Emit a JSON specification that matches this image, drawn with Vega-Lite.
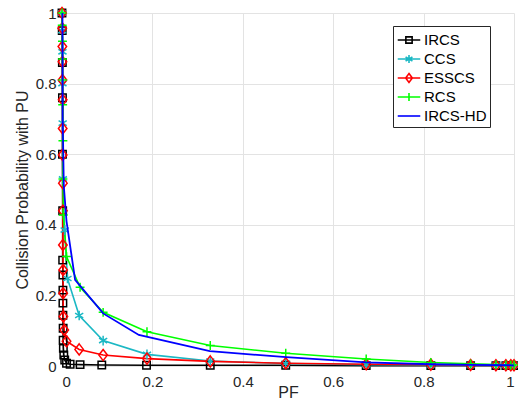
{
  "$schema": "https://vega.github.io/schema/vega-lite/v6.json",
  "width": 452,
  "height": 353,
  "autosize": {"type": "none"},
  "padding": {"left": 62, "top": 13, "right": 4, "bottom": 35},
  "background": "white",
  "config": {
    "view": {"stroke": null},
    "font": "Liberation Sans",
    "axis": {
      "domain": false,
      "ticks": false,
      "grid": true,
      "gridColor": "#e3e3e3",
      "gridWidth": 1,
      "labelFont": "Liberation Sans",
      "labelFontSize": 15,
      "labelColor": "#262626",
      "titleFont": "Liberation Sans",
      "titleFontSize": 16,
      "titleFontWeight": "normal",
      "titleColor": "#262626"
    }
  },
  "datasets": {
    "curves": [
      {"s": "IRCS", "i": 0, "x": 0, "y": 1.0},
      {"s": "IRCS", "i": 1, "x": 0.0005, "y": 0.95},
      {"s": "IRCS", "i": 2, "x": 0.0008, "y": 0.86},
      {"s": "IRCS", "i": 3, "x": 0.001, "y": 0.76},
      {"s": "IRCS", "i": 4, "x": 0.001, "y": 0.6},
      {"s": "IRCS", "i": 5, "x": 0.0015, "y": 0.44},
      {"s": "IRCS", "i": 6, "x": 0.0015, "y": 0.3},
      {"s": "IRCS", "i": 7, "x": 0.002, "y": 0.258},
      {"s": "IRCS", "i": 8, "x": 0.002, "y": 0.215},
      {"s": "IRCS", "i": 9, "x": 0.002, "y": 0.178},
      {"s": "IRCS", "i": 10, "x": 0.002, "y": 0.144},
      {"s": "IRCS", "i": 11, "x": 0.0025, "y": 0.107},
      {"s": "IRCS", "i": 12, "x": 0.0025, "y": 0.073},
      {"s": "IRCS", "i": 13, "x": 0.003, "y": 0.05},
      {"s": "IRCS", "i": 14, "x": 0.004, "y": 0.031},
      {"s": "IRCS", "i": 15, "x": 0.006, "y": 0.017},
      {"s": "IRCS", "i": 16, "x": 0.01, "y": 0.008},
      {"s": "IRCS", "i": 17, "x": 0.018, "y": 0.005},
      {"s": "IRCS", "i": 18, "x": 0.04, "y": 0.004},
      {"s": "IRCS", "i": 19, "x": 0.088, "y": 0.003},
      {"s": "IRCS", "i": 20, "x": 0.187, "y": 0.002},
      {"s": "IRCS", "i": 21, "x": 0.328, "y": 0.002},
      {"s": "IRCS", "i": 22, "x": 0.495, "y": 0.002},
      {"s": "IRCS", "i": 23, "x": 0.673, "y": 0.001},
      {"s": "IRCS", "i": 24, "x": 0.816, "y": 0.001},
      {"s": "IRCS", "i": 25, "x": 0.904, "y": 0.001},
      {"s": "IRCS", "i": 26, "x": 0.96, "y": 0.001},
      {"s": "IRCS", "i": 27, "x": 0.982, "y": 0.001},
      {"s": "IRCS", "i": 28, "x": 0.993, "y": 0.001},
      {"s": "IRCS", "i": 29, "x": 1.0, "y": 0.001},

      {"s": "CCS", "i": 0, "x": 0, "y": 1.0},
      {"s": "CCS", "i": 1, "x": 0.0005, "y": 0.95},
      {"s": "CCS", "i": 2, "x": 0.001, "y": 0.89},
      {"s": "CCS", "i": 3, "x": 0.001, "y": 0.8},
      {"s": "CCS", "i": 4, "x": 0.0015, "y": 0.688},
      {"s": "CCS", "i": 5, "x": 0.002, "y": 0.53},
      {"s": "CCS", "i": 6, "x": 0.006, "y": 0.385},
      {"s": "CCS", "i": 7, "x": 0.012, "y": 0.248},
      {"s": "CCS", "i": 8, "x": 0.038, "y": 0.143},
      {"s": "CCS", "i": 9, "x": 0.091, "y": 0.072},
      {"s": "CCS", "i": 10, "x": 0.188, "y": 0.033},
      {"s": "CCS", "i": 11, "x": 0.328, "y": 0.014},
      {"s": "CCS", "i": 12, "x": 0.495, "y": 0.007},
      {"s": "CCS", "i": 13, "x": 0.673, "y": 0.004},
      {"s": "CCS", "i": 14, "x": 0.816, "y": 0.003},
      {"s": "CCS", "i": 15, "x": 0.904, "y": 0.002},
      {"s": "CCS", "i": 16, "x": 0.96, "y": 0.002},
      {"s": "CCS", "i": 17, "x": 0.982, "y": 0.002},
      {"s": "CCS", "i": 18, "x": 0.993, "y": 0.002},
      {"s": "CCS", "i": 19, "x": 1.0, "y": 0.002},

      {"s": "ESSCS", "i": 0, "x": 0, "y": 1.0},
      {"s": "ESSCS", "i": 1, "x": 0.0005, "y": 0.957},
      {"s": "ESSCS", "i": 2, "x": 0.0008, "y": 0.905},
      {"s": "ESSCS", "i": 3, "x": 0.001, "y": 0.862},
      {"s": "ESSCS", "i": 4, "x": 0.001, "y": 0.81},
      {"s": "ESSCS", "i": 5, "x": 0.0015, "y": 0.754},
      {"s": "ESSCS", "i": 6, "x": 0.0015, "y": 0.673},
      {"s": "ESSCS", "i": 7, "x": 0.0015, "y": 0.598},
      {"s": "ESSCS", "i": 8, "x": 0.002, "y": 0.518},
      {"s": "ESSCS", "i": 9, "x": 0.002, "y": 0.44},
      {"s": "ESSCS", "i": 10, "x": 0.002, "y": 0.343},
      {"s": "ESSCS", "i": 11, "x": 0.0025, "y": 0.272},
      {"s": "ESSCS", "i": 12, "x": 0.0025, "y": 0.206},
      {"s": "ESSCS", "i": 13, "x": 0.003, "y": 0.14},
      {"s": "ESSCS", "i": 14, "x": 0.005, "y": 0.102},
      {"s": "ESSCS", "i": 15, "x": 0.01, "y": 0.07},
      {"s": "ESSCS", "i": 16, "x": 0.038, "y": 0.047},
      {"s": "ESSCS", "i": 17, "x": 0.091, "y": 0.031},
      {"s": "ESSCS", "i": 18, "x": 0.188, "y": 0.021},
      {"s": "ESSCS", "i": 19, "x": 0.328, "y": 0.013},
      {"s": "ESSCS", "i": 20, "x": 0.495, "y": 0.008},
      {"s": "ESSCS", "i": 21, "x": 0.673, "y": 0.005},
      {"s": "ESSCS", "i": 22, "x": 0.816, "y": 0.004},
      {"s": "ESSCS", "i": 23, "x": 0.904, "y": 0.003},
      {"s": "ESSCS", "i": 24, "x": 0.96, "y": 0.002},
      {"s": "ESSCS", "i": 25, "x": 0.982, "y": 0.002},
      {"s": "ESSCS", "i": 26, "x": 0.993, "y": 0.002},
      {"s": "ESSCS", "i": 27, "x": 1.0, "y": 0.002},

      {"s": "RCS", "i": 0, "x": 0, "y": 1.0},
      {"s": "RCS", "i": 1, "x": 0.0005, "y": 0.965},
      {"s": "RCS", "i": 2, "x": 0.001, "y": 0.92},
      {"s": "RCS", "i": 3, "x": 0.001, "y": 0.87},
      {"s": "RCS", "i": 4, "x": 0.0015, "y": 0.81},
      {"s": "RCS", "i": 5, "x": 0.0015, "y": 0.74},
      {"s": "RCS", "i": 6, "x": 0.002, "y": 0.638},
      {"s": "RCS", "i": 7, "x": 0.002, "y": 0.53},
      {"s": "RCS", "i": 8, "x": 0.003, "y": 0.428},
      {"s": "RCS", "i": 9, "x": 0.01, "y": 0.31},
      {"s": "RCS", "i": 10, "x": 0.04, "y": 0.223},
      {"s": "RCS", "i": 11, "x": 0.091, "y": 0.152},
      {"s": "RCS", "i": 12, "x": 0.188, "y": 0.097},
      {"s": "RCS", "i": 13, "x": 0.328, "y": 0.058},
      {"s": "RCS", "i": 14, "x": 0.495, "y": 0.036},
      {"s": "RCS", "i": 15, "x": 0.673, "y": 0.02},
      {"s": "RCS", "i": 16, "x": 0.816, "y": 0.01},
      {"s": "RCS", "i": 17, "x": 0.904, "y": 0.006},
      {"s": "RCS", "i": 18, "x": 0.96, "y": 0.004},
      {"s": "RCS", "i": 19, "x": 0.982, "y": 0.003},
      {"s": "RCS", "i": 20, "x": 0.993, "y": 0.003},
      {"s": "RCS", "i": 21, "x": 1.0, "y": 0.003},

      {"s": "IRCS-HD", "i": 0, "x": 0.001, "y": 1.0},
      {"s": "IRCS-HD", "i": 1, "x": 0.0015, "y": 0.7},
      {"s": "IRCS-HD", "i": 2, "x": 0.004, "y": 0.51},
      {"s": "IRCS-HD", "i": 3, "x": 0.01, "y": 0.41},
      {"s": "IRCS-HD", "i": 4, "x": 0.029, "y": 0.244},
      {"s": "IRCS-HD", "i": 5, "x": 0.091, "y": 0.149},
      {"s": "IRCS-HD", "i": 6, "x": 0.17, "y": 0.088},
      {"s": "IRCS-HD", "i": 7, "x": 0.327, "y": 0.042},
      {"s": "IRCS-HD", "i": 8, "x": 0.496, "y": 0.025},
      {"s": "IRCS-HD", "i": 9, "x": 0.673, "y": 0.01},
      {"s": "IRCS-HD", "i": 10, "x": 0.816, "y": 0.005},
      {"s": "IRCS-HD", "i": 11, "x": 0.904, "y": 0.003},
      {"s": "IRCS-HD", "i": 12, "x": 1.0, "y": 0.002}
    ]
  },
  "data": {"name": "curves"},
  "encoding": {
    "x": {
      "field": "x", "type": "quantitative",
      "scale": {"domain": [0, 1], "nice": false},
      "axis": {"values": [0, 0.2, 0.4, 0.6, 0.8, 1], "format": "~g", "title": "PF", "labelPadding": 8, "titlePadding": -5}
    },
    "y": {
      "field": "y", "type": "quantitative",
      "scale": {"domain": [0, 1], "nice": false},
      "axis": {"values": [0, 0.2, 0.4, 0.6, 0.8, 1], "format": "~g", "title": "Collision Probability with PU", "labelPadding": 6, "titlePadding": 5}
    },
    "color": {
      "field": "s", "type": "nominal",
      "scale": {
        "domain": ["IRCS", "CCS", "ESSCS", "RCS", "IRCS-HD"],
        "range": ["#000000", "#1bb8c4", "#ff0000", "#00ff00", "#0000ff"]
      },
      "legend": {
        "title": null,
        "orient": "none",
        "legendX": 331,
        "legendY": 13,
        "fillColor": "white",
        "strokeColor": "#262626",
        "padding": 3,
        "labelFont": "Liberation Sans",
        "labelFontSize": 15,
        "labelColor": "#000000",
        "symbolSize": 384,
        "symbolStrokeWidth": 1.6,
        "rowPadding": 0,
        "labelOffset": 4,
        "symbolOffset": 2,
        "symbolFillColor": "transparent"
      }
    }
  },
  "layer": [
    {
      "transform": [{"filter": "datum.s !== 'IRCS-HD'"}],
      "mark": {"type": "line", "strokeWidth": 1.6, "clip": false},
      "encoding": {"detail": {"field": "s"}, "order": {"field": "i", "type": "quantitative"}}
    },
    {
      "transform": [{"filter": "datum.s === 'IRCS'"}],
      "mark": {"type": "point", "filled": false, "strokeWidth": 1.5, "opacity": 1, "clip": false, "size": 55, "shape": "M-1,-1L1,-1L1,1L-1,1Z"}
    },
    {
      "transform": [{"filter": "datum.s === 'CCS'"}],
      "mark": {"type": "point", "filled": false, "strokeWidth": 1.5, "opacity": 1, "clip": false, "size": 55, "shape": "M0,-1.3L0,1.3M-1.1,-0.65L1.1,0.65M-1.1,0.65L1.1,-0.65"}
    },
    {
      "transform": [{"filter": "datum.s === 'ESSCS'"}],
      "mark": {"type": "point", "filled": false, "strokeWidth": 1.5, "opacity": 1, "clip": false, "size": 55, "shape": "M0,-1.5L1.15,0L0,1.5L-1.15,0Z"}
    },
    {
      "transform": [{"filter": "datum.s === 'RCS'"}],
      "mark": {"type": "point", "filled": false, "strokeWidth": 1.5, "opacity": 1, "clip": false, "size": 55, "shape": "M-1.2,0L1.2,0M0,-1.2L0,1.2"}
    },
    {
      "transform": [{"filter": "datum.s === 'IRCS-HD'"}],
      "mark": {"type": "line", "strokeWidth": 1.8, "clip": false},
      "encoding": {"order": {"field": "i", "type": "quantitative"}}
    },
    {
      "transform": [{"filter": "datum.i < 0"}],
      "mark": {"type": "point", "filled": false, "strokeWidth": 1.6, "opacity": 1},
      "encoding": {
        "shape": {
          "field": "s", "type": "nominal",
          "scale": {
            "domain": ["IRCS", "CCS", "ESSCS", "RCS", "IRCS-HD"],
            "range": [
              "M-1.15,0L1.15,0M-0.32,-0.32L0.32,-0.32L0.32,0.32L-0.32,0.32Z",
              "M-1.15,0L1.15,0M0,-0.4L0,0.4M-0.35,-0.2L0.35,0.2M-0.35,0.2L0.35,-0.2",
              "M-1.15,0L1.15,0M0,-0.45L0.34,0L0,0.45L-0.34,0Z",
              "M-1.15,0L1.15,0M0,-0.4L0,0.4",
              "M-1.15,0L1.15,0"
            ]
          },
          "legend": {
            "title": null,
            "orient": "none",
            "legendX": 331,
            "legendY": 13,
            "fillColor": "white",
            "strokeColor": "#262626",
            "padding": 3,
            "labelFont": "Liberation Sans",
            "labelFontSize": 15,
            "labelColor": "#000000",
            "symbolSize": 384,
            "symbolStrokeWidth": 1.6,
            "rowPadding": 0,
            "labelOffset": 4,
            "symbolOffset": 2,
            "symbolFillColor": "transparent"
          }
        }
      }
    }
  ]
}
